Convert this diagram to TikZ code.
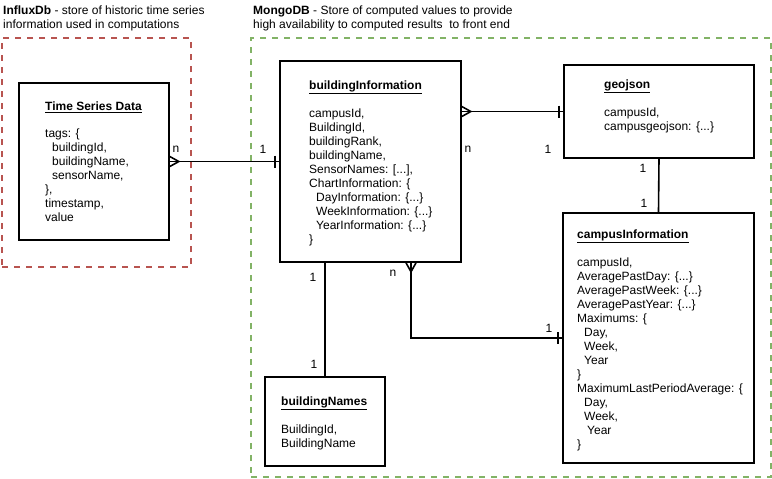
\documentclass[tikz,border=0pt]{standalone}
\usepackage{fontspec}
\setmainfont{Liberation Sans}
\usetikzlibrary{calc}
\definecolor{redc}{HTML}{B85450}
\definecolor{greenc}{HTML}{82B366}
\begin{document}
\begin{tikzpicture}[x=1pt,y=-1pt,
  font=\fontsize{12pt}{14pt}\selectfont,
  group/.style={draw, line width=1.5pt, dash pattern=on 6pt off 6pt, inner sep=0pt},
  entity/.style={draw=black, line width=1.6pt, inner sep=0pt},
  txt/.style={inner sep=0pt, align=left, anchor=north west},
  conn/.style={draw=black, line width=1.6pt},
  lab/.style={inner sep=0pt}]
\useasboundingbox (0,0) rectangle (772,479);

% groups
\node[group, draw=redc, minimum width=189pt, minimum height=229pt] (influx) at (96.5,152.5) {};
\node[group, draw=greenc, minimum width=520pt, minimum height=439pt] (mongo) at (511,257.5) {};
\node[txt] (hdr1) at (3,5.5) {\textbf{InfluxDb} - store of historic time series\\information used in computations};
\node[txt] (hdr2) at (253,5.5) {\textbf{MongoDB} - Store of computed values to provide\\high availability to computed results\ \ to front end};

% entities
\node[entity, minimum width=150pt, minimum height=157pt] (ts) at (94,161.5) {};
\node[entity, minimum width=181pt, minimum height=201pt] (bi) at (370.5,161.5) {};
\node[entity, minimum width=190pt, minimum height=93pt] (gj) at (659,111.5) {};
\node[entity, minimum width=191pt, minimum height=250pt] (ci) at (658.5,338) {};
\node[entity, minimum width=120pt, minimum height=89pt] (bn) at (325,421.5) {};

% texts
\node[txt] (tsT) at (45,101.5) {\underline{\textbf{Time Series Data}}};
\node[txt] (tsB) at (45,128.5) {tags: \{\\\hspace*{7pt}buildingId,\\\hspace*{7pt}buildingName,\\\hspace*{7pt}sensorName,\\\},\\timestamp,\\value};

\node[txt] (biT) at (309,80.5) {\underline{\textbf{buildingInformation}}};
\node[txt] (biB) at (309,108.5) {campusId,\\BuildingId,\\buildingRank,\\buildingName,\\SensorNames: [...],\\ChartInformation: \{\\\hspace*{7pt}DayInformation: \{...\}\\\hspace*{7pt}WeekInformation: \{...\}\\\hspace*{7pt}YearInformation: \{...\}\\\}};

\node[txt] (gjT) at (604,79.5) {\underline{\textbf{geojson}}};
\node[txt] (gjB) at (604,107.5) {campusId,\\campusgeojson: \{...\}};

\node[txt] (ciT) at (577,229.5) {\underline{\textbf{campusInformation}}};
\node[txt] (ciB) at (577,257.5) {campusId,\\AveragePastDay: \{...\}\\AveragePastWeek: \{...\}\\AveragePastYear: \{...\}\\Maximums: \{\\\hspace*{7pt}Day,\\\hspace*{7pt}Week,\\\hspace*{7pt}Year\\\}\\MaximumLastPeriodAverage: \{\\\hspace*{7pt}Day,\\\hspace*{7pt}Week,\\\hspace*{10pt}Year\\\}};

\node[txt] (bnT) at (281,396.5) {\underline{\textbf{buildingNames}}};
\node[txt] (bnB) at (281,424.5) {BuildingId,\\BuildingName};

% connectors
\draw[conn] (ts.east) -- (bi.west);
\draw[conn] ($(ts.east)+(0,-5)$) -- ($(ts.east)+(9,0)$) -- ($(ts.east)+(0,5)$);
\draw[conn] ($(bi.west)+(-4,-6)$) -- ($(bi.west)+(-4,6)$);
\node[lab] (l1) at (176,149) {n};
\node[lab] (l2) at (263,149) {1};

\coordinate (c2) at (gj.west -| bi.east);
\draw[conn] (c2) -- (gj.west);
\draw[conn] ($(c2)+(0,-5)$) -- ($(c2)+(9,0)$) -- ($(c2)+(0,5)$);
\draw[conn] ($(gj.west)+(-4,-6)$) -- ($(gj.west)+(-4,6)$);
\node[lab] (l3) at (468,149) {n};
\node[lab] (l4) at (548,149) {1};

\coordinate (c3) at (bn.north |- bi.south);
\draw[conn] (c3) -- (bn.north);
\node[lab] (l5) at (313,277) {1};
\node[lab] (l6) at (314,364) {1};

\draw[conn] (gj.south) -- (ci.north);
\node[lab] (l7) at (643,168) {1};
\node[lab] (l8) at (644,203) {1};

\coordinate (c5) at ($(bi.south)+(40.5,0)$);
\draw[conn] (c5) |- (ci.west);
\draw[conn] ($(c5)+(-5,0)$) -- ($(c5)+(0,9)$) -- ($(c5)+(5,0)$);
\draw[conn] ($(ci.west)+(-4,-6)$) -- ($(ci.west)+(-4,6)$);
\node[lab] (l9) at (393,273) {n};
\node[lab] (l10) at (549,328) {1};
\end{tikzpicture}
\end{document}
